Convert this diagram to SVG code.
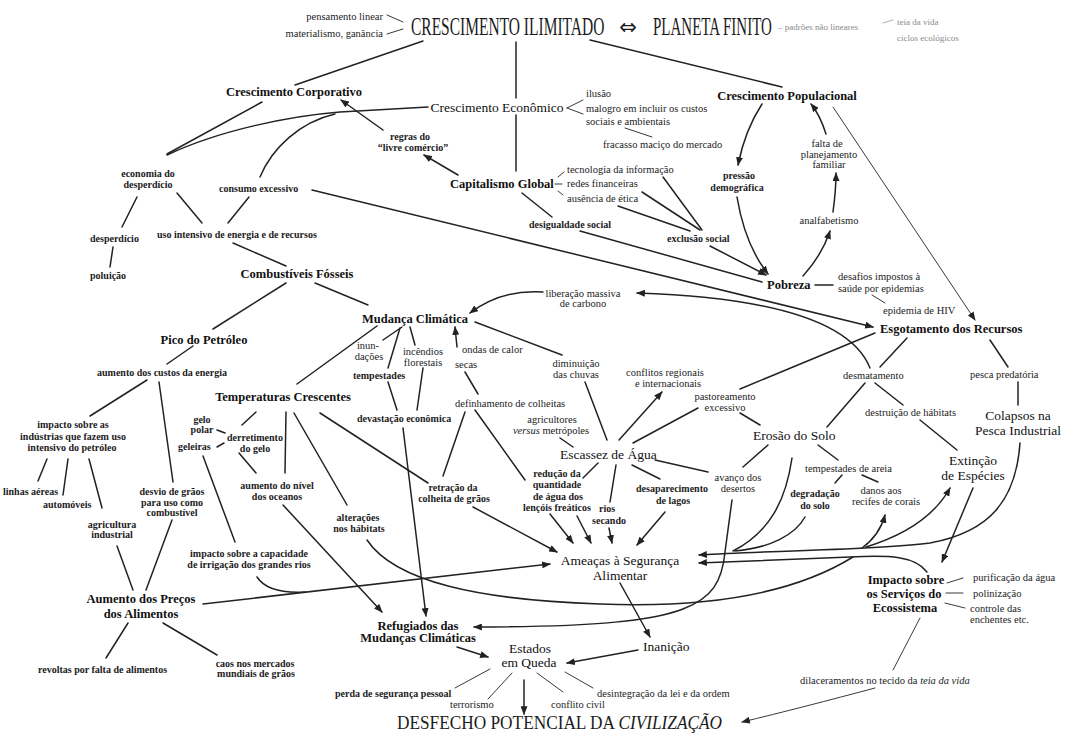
<svg xmlns="http://www.w3.org/2000/svg" width="1065" height="735" viewBox="0 0 1065 735">
<style>
text{font-family:"Liberation Serif","Times New Roman",serif;fill:#1c1c1c}
.s{font-size:10.5px}
.sb{font-size:10px;font-weight:bold}
.n{font-size:12.5px;font-weight:bold;fill:#111}
.r{font-size:13.5px;fill:#111}
.m{text-anchor:middle}
.e{text-anchor:end}
.g{fill:#8a8a8a;font-size:9px}
.c path{fill:none;stroke:#222;stroke-width:1.5;stroke-linecap:round}
.c path.th{stroke-width:0.9}
.c path.gr{stroke:#999;stroke-width:0.8}
.c path.a{marker-end:url(#ah)}
</style>
<defs>
<marker id="ah" viewBox="0 0 10 8" refX="9" refY="4" markerWidth="9" markerHeight="7" markerUnits="userSpaceOnUse" orient="auto"><path d="M0,0 L10,4 L0,8 z" fill="#222"/></marker>
</defs>
<rect width="1065" height="735" fill="#fff"/>

<g class="c" id="connectors">
<path d="M423,41 L295,85"/>
<path d="M516,42 L516,98"/>
<path d="M516,115 L516,171"/>
<path d="M590,40 L782,87"/>
<path class="th" d="M387,15 L403,22"/>
<path class="th" d="M387,34 L403,29"/>
<path d="M428,107 L340,112 C290,116 220,130 167,155"/>
<path d="M335,114 C300,122 272,148 260,177"/>
<path d="M262,102 L167,154"/>
<path class="a" d="M383,130 L341,100"/>
<path class="a" d="M458,175 L424,155"/>
<path class="th" d="M567,108 L583,100"/>
<path class="th" d="M567,108 L583,114"/>
<path class="th" d="M625,128 L652,137"/>
<path class="th" d="M558,177 L564,172"/>
<path class="th" d="M555,184 L562,184"/>
<path class="th" d="M558,191 L563,195"/>
<path d="M522,193 L552,217"/>
<path d="M663,177 L702,230"/>
<path d="M642,192 L700,230"/>
<path d="M618,206 L690,231"/>
<path class="a" d="M710,246 L766,275"/>
<path d="M580,231 L762,282"/>
<path class="a" d="M312,190 L873,327"/>
<path class="a" d="M762,104 Q745,130 738,165"/>
<path class="a" d="M737,197 Q745,245 768,274"/>
<path class="a" d="M803,276 Q822,255 830,231"/>
<path class="a" d="M833,212 Q836,190 836,173"/>
<path class="a" d="M826,134 Q820,115 811,104"/>
<path class="th a" d="M833,107 L975,320"/>
<path d="M815,285 L833,285"/>
<path class="th" d="M872,295 L885,303"/>
<path class="a" d="M870,368 C850,318 760,297 637,293"/>
<path d="M875,333 L740,389"/>
<path d="M907,338 L880,367"/>
<path d="M990,340 L1008,367"/>
<path d="M1018,382 L1018,405"/>
<path d="M865,383 L827,427"/>
<path d="M875,383 L903,405"/>
<path d="M920,420 L957,450"/>
<path d="M740,413 L760,425"/>
<path d="M633,443 L698,408"/>
<path class="a" d="M619,440 L662,392"/>
<path d="M585,382 L607,440"/>
<path d="M475,322 L562,355"/>
<path d="M560,438 L573,447"/>
<path d="M655,460 L708,472"/>
<path d="M768,445 L743,467"/>
<path d="M818,445 L838,460"/>
<path d="M842,475 L835,483"/>
<path d="M862,475 L878,482"/>
<path d="M598,463 L583,478"/>
<path d="M616,465 L610,502"/>
<path d="M632,465 L660,479"/>
<path class="a" d="M550,514 L573,543"/>
<path class="a" d="M577,516 L591,543"/>
<path class="a" d="M609,528 L612,543"/>
<path class="a" d="M665,512 L637,545"/>
<path class="a" d="M473,507 L557,552"/>
<path d="M475,410 L525,480"/>
<path d="M465,412 L443,476"/>
<path d="M465,372 L478,394"/>
<path class="a" d="M457,347 L455,327"/>
<path d="M402,327 L383,340"/>
<path d="M400,328 L388,368"/>
<path d="M410,327 L415,345"/>
<path d="M388,382 L397,410"/>
<path d="M423,368 L417,410"/>
<path class="a" d="M403,428 L426,616"/>
<path class="a" d="M543,292 C515,290 490,298 470,313"/>
<path d="M315,283 L368,305"/>
<path d="M286,283 L213,329"/>
<path d="M233,243 L286,266"/>
<path d="M137,197 L122,227"/>
<path d="M177,193 L202,223"/>
<path d="M249,197 L228,223"/>
<path d="M113,247 L110,267"/>
<path d="M377,326 L297,384"/>
<path d="M193,346 L167,364"/>
<path d="M147,380 L90,416"/>
<path d="M159,382 L173,482"/>
<path d="M47,459 L38,481"/>
<path d="M68,459 L63,495"/>
<path d="M89,459 L102,508"/>
<path d="M117,546 L133,590"/>
<path d="M172,520 L146,590"/>
<path class="a" d="M203,604 L550,564"/>
<path d="M257,577 Q268,594 305,592"/>
<path d="M128,623 L106,658"/>
<path d="M163,623 L217,655"/>
<path d="M256,412 L242,425"/>
<path d="M217,430 L225,433"/>
<path d="M217,447 L224,443"/>
<path d="M239,453 L256,473"/>
<path d="M286,412 L285,473"/>
<path d="M294,413 L347,505"/>
<path d="M320,413 L428,483"/>
<path d="M203,456 L235,542"/>
<path class="a" d="M283,505 L382,612"/>
<path d="M367,540 C395,582 480,600 600,604 C700,608 790,596 853,557"/>
<path class="a" d="M732,500 L725,552 C722,582 712,598 683,609 C655,620 600,627 474,627"/>
<path d="M792,458 C786,500 770,532 733,551"/>
<path d="M805,517 C795,535 770,548 735,551"/>
<path class="a" d="M1020,443 C1016,500 990,532 930,543 C880,550 780,550 699,555"/>
<path class="a" d="M927,572 C915,556 890,555 850,557 C790,559 740,561 699,563"/>
<path class="a" d="M862,548 C873,540 881,530 885,515"/>
<path class="a" d="M866,547 C905,535 935,515 950,488"/>
<path class="a" d="M973,488 L942,562"/>
<path class="th" d="M947,583 L963,578"/>
<path class="th" d="M946,593 L963,593"/>
<path class="th" d="M945,603 L965,608"/>
<path class="th" d="M920,618 L893,670"/>
<path class="th a" d="M875,688 C830,700 780,713 742,722"/>
<path class="a" d="M620,583 L650,637"/>
<path class="a" d="M638,650 L567,663"/>
<path class="a" d="M457,647 L488,657"/>
<path class="th" d="M490,669 L455,688"/>
<path class="th" d="M512,673 L488,699"/>
<path class="a" d="M524,680 L524,714"/>
<path class="th" d="M537,673 L563,692"/>
<path class="th" d="M565,672 L593,688"/>
<path class="gr" d="M883,23 L893,20"/>
</g>

<g id="title">
<text transform="translate(411,35) scale(0.62,1)" font-size="25">CRESCIMENTO ILIMITADO</text>
<text x="628" y="34" font-size="21" class="m" style="font-family:'DejaVu Sans',sans-serif">⇔</text>
<text transform="translate(653,35) scale(0.6,1)" font-size="25">PLANETA FINITO</text>
</g>
<g id="padroes"><text class="g" x="778" y="30">– padrões não lineares</text></g>
<g id="teia"><text class="g" x="897" y="25">teia da vida</text><text class="g" x="897" y="41">ciclos ecológicos</text></g>
<g id="pensamento"><text class="s e" x="383" y="20">pensamento linear</text></g>
<g id="materialismo"><text class="s e" x="383" y="37">materialismo, ganância</text></g>

<g id="corporativo"><text class="n m" x="294" y="96">Crescimento Corporativo</text></g>
<g id="economico"><text class="r m" x="497" y="112">Crescimento Econômico</text></g>
<g id="ilusao"><text class="s" x="586" y="97">ilusão</text></g>
<g id="malogro"><text class="s" x="586" y="112">malogro em incluir os custos</text><text class="s" x="586" y="125">sociais e ambientais</text></g>
<g id="fracasso"><text class="s" x="603" y="148">fracasso maciço do mercado</text></g>
<g id="populacional"><text class="n m" x="787" y="100">Crescimento Populacional</text></g>
<g id="regras"><text class="sb m" x="410" y="140">regras do</text><text class="sb m" x="413" y="151">“livre comércio”</text></g>
<g id="capitalismo"><text class="n" x="450" y="188">Capitalismo Global</text></g>
<g id="tecnologia"><text class="s" x="567" y="173">tecnologia da informação</text></g>
<g id="redes"><text class="s" x="567" y="187">redes financeiras</text></g>
<g id="etica"><text class="s" x="567" y="202">ausência de ética</text></g>
<g id="desigualdade"><text class="sb" x="529" y="228">desigualdade social</text></g>
<g id="exclusao"><text class="sb" x="667" y="242">exclusão social</text></g>
<g id="pressao"><text class="sb m" x="739" y="179">pressão</text><text class="sb m" x="737" y="191">demográfica</text></g>
<g id="falta"><text class="s m" x="827" y="147">falta de</text><text class="s m" x="829" y="158">planejamento</text><text class="s m" x="829" y="168">familiar</text></g>
<g id="analfabetismo"><text class="s m" x="829" y="224">analfabetismo</text></g>

<g id="economia"><text class="sb m" x="148" y="177">economia do</text><text class="sb m" x="148" y="188">desperdício</text></g>
<g id="consumo"><text class="sb" x="219" y="192">consumo excessivo</text></g>
<g id="uso"><text class="sb" x="157" y="238">uso intensivo de energia e de recursos</text></g>
<g id="desperdicio"><text class="sb" x="90" y="242">desperdício</text></g>
<g id="poluicao"><text class="sb" x="90" y="279">poluição</text></g>
<g id="combustiveis"><text class="n m" x="297" y="278">Combustíveis Fósseis</text></g>

<g id="pobreza"><text class="n" x="767" y="289">Pobreza</text></g>
<g id="desafios"><text class="s" x="838" y="280">desafios impostos à</text><text class="s" x="838" y="292">saúde por epidemias</text></g>
<g id="hiv"><text class="s" x="883" y="314">epidemia de HIV</text></g>
<g id="liberacao"><text class="s m" x="583" y="297">liberação massiva</text><text class="s m" x="583" y="307">de carbono</text></g>
<g id="mudanca"><text class="n m" x="415" y="323">Mudança Climática</text></g>
<g id="esgotamento"><text class="n" x="880" y="333">Esgotamento dos Recursos</text></g>
<g id="pico"><text class="n m" x="204" y="344">Pico do Petróleo</text></g>
<g id="custos"><text class="sb m" x="162" y="376">aumento dos custos da energia</text></g>
<g id="inundacoes"><text class="s m" x="368" y="349">inun-</text><text class="s m" x="369" y="360">dações</text></g>
<g id="incendios"><text class="s m" x="423" y="355">incêndios</text><text class="s m" x="423" y="366">florestais</text></g>
<g id="ondas"><text class="s" x="462" y="353">ondas de calor</text></g>
<g id="secas"><text class="s" x="455" y="368">secas</text></g>
<g id="diminuicao"><text class="s m" x="576" y="367">diminuição</text><text class="s m" x="576" y="378">das chuvas</text></g>
<g id="pesca"><text class="s" x="970" y="378">pesca predatória</text></g>
<g id="desmatamento"><text class="s" x="843" y="379">desmatamento</text></g>
<g id="tempestades"><text class="sb" x="353" y="379">tempestades</text></g>
<g id="conflitos"><text class="s m" x="665" y="376">conflitos regionais</text><text class="s m" x="668" y="387">e internacionais</text></g>
<g id="temperaturas"><text class="n m" x="283" y="401">Temperaturas Crescentes</text></g>
<g id="pastoreamento"><text class="s m" x="725" y="400">pastoreamento</text><text class="s m" x="725" y="411">excessivo</text></g>
<g id="definhamento"><text class="s" x="455" y="407">definhamento de colheitas</text></g>
<g id="destruicao"><text class="s" x="865" y="416">destruição de hábitats</text></g>
<g id="colapsos"><text class="r m" x="1018" y="420">Colapsos na</text><text class="r m" x="1018" y="435">Pesca Industrial</text></g>
<g id="devastacao"><text class="sb" x="357" y="422">devastação econômica</text></g>
<g id="gelo"><text class="sb m" x="202" y="423">gelo</text><text class="sb m" x="202" y="433">polar</text></g>
<g id="agricultores"><text class="s m" x="552" y="423">agricultores</text><text class="s m" x="551" y="434"><tspan font-style="italic">versus</tspan> metrópoles</text></g>
<g id="impactoind"><text class="sb m" x="73" y="428">impacto sobre as</text><text class="sb m" x="73" y="440">indústrias que fazem uso</text><text class="sb m" x="72" y="451">intensivo do petróleo</text></g>
<g id="erosao"><text class="r" x="753" y="440">Erosão do Solo</text></g>
<g id="derretimento"><text class="sb m" x="255" y="441">derretimento</text><text class="sb m" x="255" y="452">do gelo</text></g>
<g id="geleiras"><text class="sb" x="178" y="450">geleiras</text></g>
<g id="escassez"><text class="r" x="560" y="459">Escassez de Água</text></g>
<g id="extincao"><text class="r m" x="973" y="465">Extinção</text><text class="r m" x="973" y="480">de Espécies</text></g>
<g id="areia"><text class="s" x="805" y="472">tempestades de areia</text></g>
<g id="reducao"><text class="sb m" x="557" y="477">redução da</text><text class="sb m" x="557" y="488">quantidade</text><text class="sb m" x="558" y="500">de água dos</text><text class="sb m" x="557" y="511">lençóis freáticos</text></g>
<g id="avanco"><text class="s m" x="738" y="481">avanço dos</text><text class="s m" x="738" y="492">desertos</text></g>
<g id="nivel"><text class="sb m" x="277" y="489">aumento do nível</text><text class="sb m" x="277" y="500">dos oceanos</text></g>
<g id="retracao"><text class="sb m" x="453" y="491">retração da</text><text class="sb m" x="454" y="502">colheita de grãos</text></g>
<g id="lagos"><text class="sb m" x="672" y="492">desaparecimento</text><text class="sb m" x="673" y="504">de lagos</text></g>
<g id="danos"><text class="s m" x="881" y="494">danos aos</text><text class="s m" x="886" y="505">recifes de corais</text></g>
<g id="degradacao"><text class="sb m" x="815" y="497">degradação</text><text class="sb m" x="815" y="509">do solo</text></g>
<g id="linhas"><text class="sb" x="3" y="495">linhas aéreas</text></g>
<g id="desvio"><text class="sb m" x="172" y="495">desvio de grãos</text><text class="sb m" x="172" y="506">para uso como</text><text class="sb m" x="172" y="516">combustível</text></g>
<g id="automoveis"><text class="sb" x="43" y="508">automóveis</text></g>
<g id="rios"><text class="sb m" x="607" y="512">rios</text><text class="sb m" x="609" y="524">secando</text></g>
<g id="alteracoes"><text class="sb m" x="358" y="521">alterações</text><text class="sb m" x="359" y="532">nos hábitats</text></g>
<g id="agricultura"><text class="sb m" x="112" y="528">agricultura</text><text class="sb m" x="112" y="538">industrial</text></g>
<g id="irrigacao"><text class="sb m" x="249" y="557">impacto sobre a capacidade</text><text class="sb m" x="249" y="568">de irrigação dos grandes rios</text></g>
<g id="ameacas"><text class="r m" x="620" y="565">Ameaças à Segurança</text><text class="r m" x="620" y="580">Alimentar</text></g>
<g id="impactoeco"><text class="n m" x="906" y="584">Impacto sobre</text><text class="n m" x="904" y="598">os Serviços do</text><text class="n m" x="905" y="612">Ecossistema</text></g>
<g id="purificacao"><text class="s" x="973" y="581">purificação da água</text></g>
<g id="polinizacao"><text class="s" x="973" y="597">polinização</text></g>
<g id="controle"><text class="s" x="970" y="612">controle das</text><text class="s" x="970" y="623">enchentes etc.</text></g>
<g id="precos"><text class="n m" x="141" y="603">Aumento dos Preços</text><text class="n m" x="141" y="618">dos Alimentos</text></g>
<g id="refugiados"><text class="n m" x="418" y="630">Refugiados das</text><text class="n m" x="418" y="642">Mudanças Climáticas</text></g>
<g id="inanicao"><text class="r" x="643" y="651">Inanição</text></g>
<g id="estados"><text class="r m" x="530" y="653">Estados</text><text class="r m" x="529" y="667">em Queda</text></g>
<g id="revoltas"><text class="sb" x="38" y="673" font-size="9.5">revoltas por falta de alimentos</text></g>
<g id="caos"><text class="sb m" x="255" y="667" font-size="9.5">caos nos mercados</text><text class="sb m" x="256" y="677" font-size="9.5">mundiais de grãos</text></g>
<g id="dilaceramentos"><text class="s" x="800" y="684" font-size="9.5">dilaceramentos no tecido da <tspan font-style="italic">teia da vida</tspan></text></g>
<g id="perda"><text class="sb" x="335" y="697" font-size="9.5">perda de segurança pessoal</text></g>
<g id="desintegracao"><text class="s" x="597" y="697">desintegração da lei e da ordem</text></g>
<g id="terrorismo"><text class="s" x="450" y="708" font-size="10">terrorismo</text></g>
<g id="conflito"><text class="s" x="551" y="708" font-size="10">conflito civil</text></g>
<g id="desfecho"><text transform="translate(397,729) scale(0.96,1)" font-size="18">DESFECHO POTENCIAL DA <tspan font-style="italic">CIVILIZAÇÃO</tspan></text></g>
</svg>
